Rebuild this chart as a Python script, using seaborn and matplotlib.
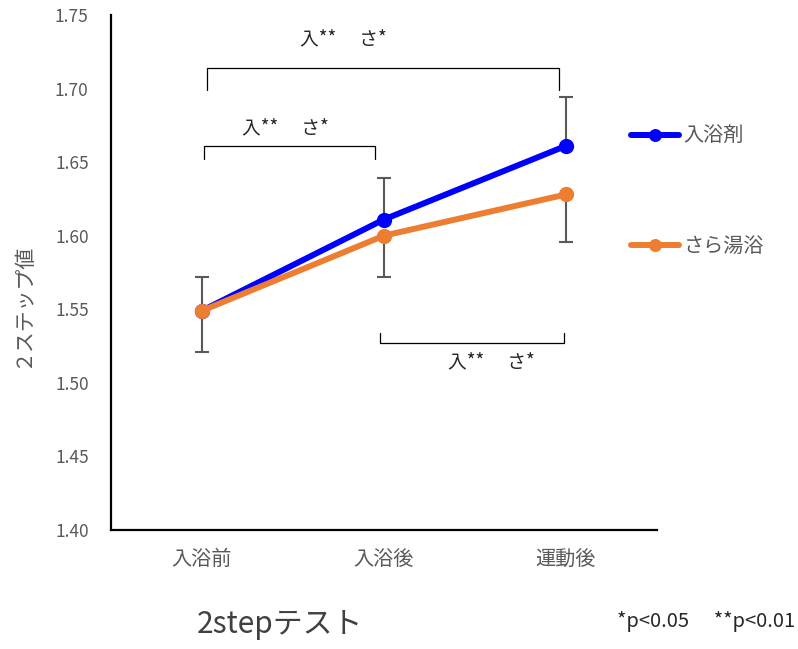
import numpy as np
import pandas as pd
import matplotlib
matplotlib.use("Agg")
import matplotlib.pyplot as plt
import seaborn as sns

categories = ["入浴前", "入浴後", "運動後"]
series_names = ["入浴剤", "さら湯浴"]
bath_agent = [1.549, 1.611, 1.661]
plain_bath = [1.549, 1.600, 1.628]
bath_agent_err = [0.023, 0.028, 0.033]
plain_bath_err = [0.028, 0.028, 0.032]
yticks = [1.40, 1.45, 1.50, 1.55, 1.60, 1.65, 1.70, 1.75]
sig_label = "入**\u3000 さ*"

sns.set_theme(style="white")
plt.rcParams['font.family'] = ['Noto Sans CJK JP', 'DejaVu Sans']

pos = np.arange(len(categories))
df = pd.DataFrame({
    "pos": np.concatenate([pos, pos]),
    "value": bath_agent + plain_bath,
    "series": [series_names[0]] * 3 + [series_names[1]] * 3,
})

fig = plt.figure(figsize=(7.98, 6.49), dpi=100)
ax = fig.add_axes([0.139, 0.1834, 0.684, 0.7935])

colors = {"入浴剤": "#0000FF", "さら湯浴": "#ED7D31"}
gray = "#595959"

# error bars (one-sided: upper for 入浴剤, lower for さら湯浴)
ax.errorbar(pos, bath_agent, yerr=[np.zeros(3), bath_agent_err], fmt="none",
            ecolor=gray, elinewidth=1.5, capsize=5, capthick=1.5, zorder=1)
ax.errorbar(pos, plain_bath, yerr=[plain_bath_err, np.zeros(3)], fmt="none",
            ecolor=gray, elinewidth=1.5, capsize=5, capthick=1.5, zorder=1)

sns.lineplot(data=df, x="pos", y="value", hue="series", palette=colors,
             marker="o", markersize=11, markeredgewidth=0, linewidth=4.3,
             ax=ax, zorder=3, legend=True)

ax.set_xlim(-0.5, 2.5)
ax.set_ylim(1.40, 1.75)
ax.set_xticks(pos)
ax.set_xticklabels(categories)
ax.set_yticks(yticks)
ax.set_yticklabels([f"{v:.2f}" for v in yticks])
ax.tick_params(axis="both", length=0, colors=gray)
ax.tick_params(axis="y", pad=16, labelsize=12.5)
ax.tick_params(axis="x", pad=14, labelsize=14.5)
ax.set_xlabel("")
ax.set_ylabel("")
for s in ["top", "right"]:
    ax.spines[s].set_visible(False)
for s in ["left", "bottom"]:
    ax.spines[s].set_color("black")
    ax.spines[s].set_linewidth(1.6)

leg = ax.legend(loc="upper left", bbox_to_anchor=(0.938, 0.80), frameon=False,
                fontsize=14.5, labelspacing=4.4, handlelength=2.4, handletextpad=0.2,
                borderaxespad=0, markerscale=0.85)
for t in leg.get_texts():
    t.set_color(gray)

# significance brackets
def bracket(x0, x1, y, tip, text_x, text_y):
    ax.plot([x0, x0, x1, x1], [tip, y, y, tip], color="black", lw=0.9,
            zorder=2, solid_joinstyle="round")
    ax.text(text_x, text_y, sig_label, ha="center", va="center", fontsize=13.5,
            color="#262626")

bracket(0.03, 1.96, 1.714, 1.699, 0.78, 1.734)
bracket(0.01, 0.95, 1.661, 1.652, 0.46, 1.673)
bracket(0.98, 1.99, 1.527, 1.534, 1.59, 1.514)

fig.text(0.028, 0.53, "２ステップ値", rotation=90, ha="center", va="center",
         fontsize=15, color=gray)
fig.text(0.351, 0.037, "2stepテスト", ha="center", va="center",
         fontsize=21.5, color="#404040")
fig.text(0.996, 0.042, "*p<0.05\u3000 **p<0.01", ha="right", va="center",
         fontsize=14.5, color="#262626")

fig.savefig("out.png", dpi=100)
